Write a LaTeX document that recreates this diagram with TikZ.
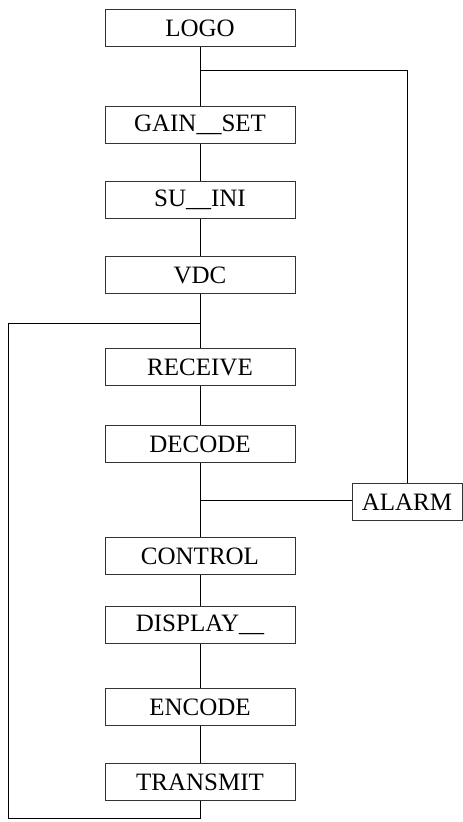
\documentclass[tikz,border=0pt]{standalone}
\usepackage{fontspec}
\setmainfont{Liberation Serif}
\begin{document}
\begin{tikzpicture}[x=1pt,y=-1pt,
  blk/.style={draw=black!80,line width=0.6pt,minimum width=190pt,minimum height=37pt,inner sep=0pt,font=\fontsize{25}{29}\selectfont},
  conn/.style={draw=black,line width=0.9pt}]
\useasboundingbox (0,0) rectangle (463,822);
\node[blk] (logo) at (200,28) {LOGO};
\node[blk] (gain) at (200,125) {GAIN\_\_SET};
\node[blk] (suini) at (200,200) {SU\_\_INI};
\node[blk] (vdc) at (200,275) {VDC};
\node[blk] (recv) at (200,367) {RECEIVE};
\node[blk] (dec) at (200,444) {DECODE};
\node[blk] (ctrl) at (200,556) {CONTROL};
\node[blk] (disp) at (200,625) {DISPLAY\_\_};
\node[blk] (enc) at (200,707) {ENCODE};
\node[blk] (tx) at (200,782) {TRANSMIT};
\node[blk,minimum width=110pt] (alarm) at (407,502) {ALARM};
\coordinate (jtop) at (200,70);
\coordinate (jloop) at (200,323);
\coordinate (jal) at (200,500);
\coordinate (cornerA) at (8,323);
\coordinate (cornerB) at (8,818);
\coordinate (cornerC) at (200,818);
\draw[conn] (logo) -- (gain);
\draw[conn] (gain) -- (suini);
\draw[conn] (suini) -- (vdc);
\draw[conn] (vdc) -- (recv);
\draw[conn] (recv) -- (dec);
\draw[conn] (dec) -- (ctrl);
\draw[conn] (ctrl) -- (disp);
\draw[conn] (disp) -- (enc);
\draw[conn] (enc) -- (tx);
\draw[conn] (jtop) -| (alarm.north);
\draw[conn] (jal) -- (jal -| alarm.west);
\draw[conn] (jloop) -- (cornerA) -- (cornerB) -- (cornerC) -- (tx.south);
\end{tikzpicture}
\end{document}
